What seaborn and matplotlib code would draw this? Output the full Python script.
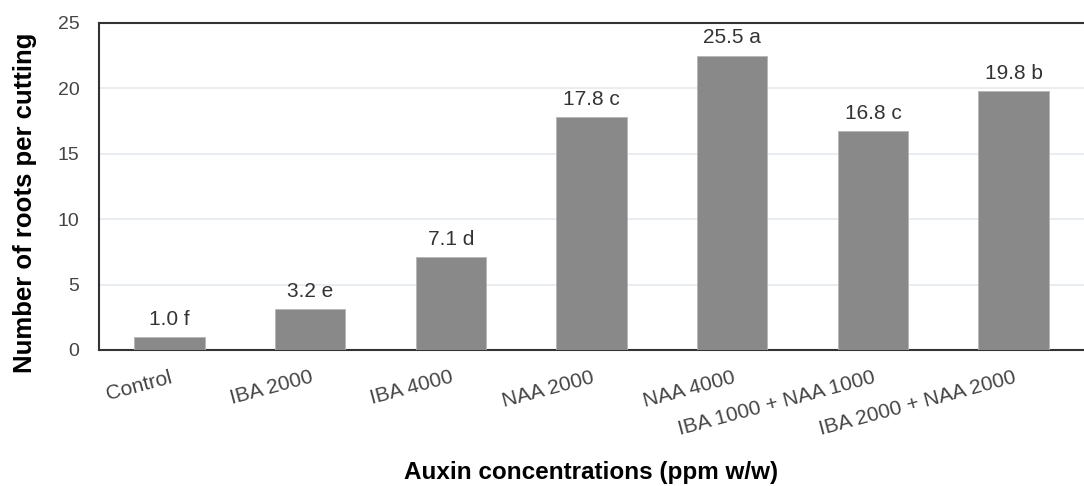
import pandas as pd
import seaborn as sns
from matplotlib import pyplot as plt

treatments = ["Control", "IBA 2000", "IBA 4000", "NAA 2000", "NAA 4000",
              "IBA 1000 + NAA 1000", "IBA 2000 + NAA 2000"]
# bar heights as drawn in the picture
roots = [1.0, 3.1, 7.1, 17.8, 22.5, 16.7, 19.8]
# labels printed above bars (mean + significance letter)
bar_texts = ["1.0 f", "3.2 e", "7.1 d", "17.8 c", "25.5 a", "16.8 c", "19.8 b"]
y_ticks = [0, 5, 10, 15, 20, 25]

df = pd.DataFrame({"treatment": treatments, "roots": roots})

sns.set_style("white")
plt.rcParams["font.family"] = ["Liberation Sans", "DejaVu Sans"]

fig, ax = plt.subplots(figsize=(10.84, 4.86), dpi=100)
fig.subplots_adjust(left=0.0913, right=1.0, top=0.953, bottom=0.28)

sns.barplot(data=df, x="treatment", y="roots", color="#898989",
            width=0.5, edgecolor="#b5b5b5", linewidth=0.6, ax=ax, zorder=3)

ax.bar_label(ax.containers[0], labels=bar_texts, padding=6,
             fontsize=15, color="#333333")

ax.set_ylim(0, 25)
ax.set_yticks(y_ticks)
ax.grid(axis="y", color="#e3e7ec", linewidth=1.1, zorder=0)
ax.set_axisbelow(True)

for side in ["left", "top", "bottom"]:
    ax.spines[side].set_color("#333333")
    ax.spines[side].set_linewidth(1.5)
ax.spines["right"].set_visible(False)

ax.tick_params(axis="y", length=0, pad=14, labelsize=14, labelcolor="#444444")
ax.tick_params(axis="x", length=0, pad=13, labelsize=15, labelcolor="#444444")
for lab in ax.get_xticklabels():
    lab.set_rotation(15)
    lab.set_ha("right")
    lab.set_va("top")
    lab.set_rotation_mode("anchor")

ax.set_xlabel("Auxin concentrations (ppm w/w)", fontsize=17.5,
              fontweight="bold", color="black")
ax.set_ylabel("Number of roots per cutting", fontsize=18.5,
              fontweight="bold", color="black")
ax.xaxis.set_label_coords(0.5, -0.34)
ax.yaxis.set_label_coords(-0.063, 0.45)

plt.savefig("out.png", dpi=100)
